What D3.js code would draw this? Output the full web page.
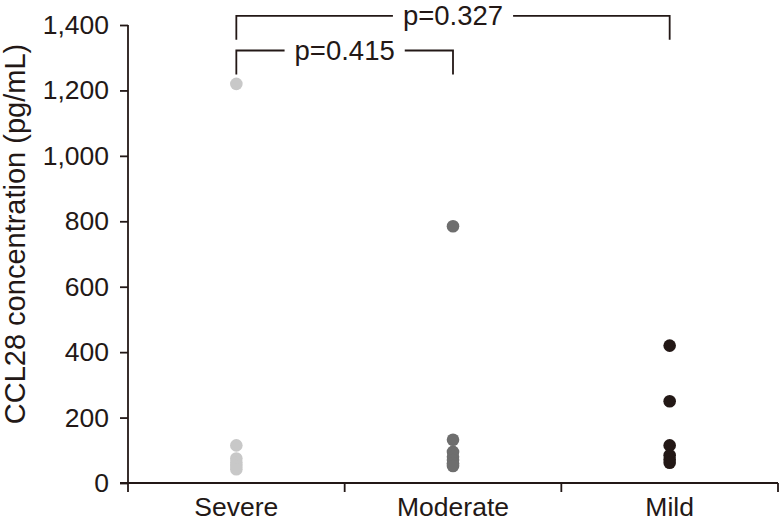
<!DOCTYPE html>
<html><head><meta charset="utf-8">
<script src="https://cdn.jsdelivr.net/npm/d3@7"></script>
<style>
html,body{margin:0;padding:0;background:#fff;}
text{font-family:"Liberation Sans",Arial,Helvetica,sans-serif;fill:#231816;}
</style></head>
<body><svg id="c" width="779" height="523"></svg>
<script>
const categories = ["Severe","Moderate","Mild"];
const colors = ["#c8c8c8","#6e6e6e","#231816"];
const severe = [1220, 115, 75, 63, 52, 42];
const moderate = [785, 132, 95, 80, 70, 60, 52];
const mild = [420, 250, 115, 85, 72, 62];
const yTicks = [0,200,400,600,800,1000,1200,1400];
const comparisons = [
  {a:"Severe", b:"Moderate", label:"p=0.415", level:1322},
  {a:"Severe", b:"Mild", label:"p=0.327", level:1428}
];
const seriesValues = [severe, moderate, mild];

const svg = d3.select("#c");
const ink = "#231816";
const x = d3.scaleBand().domain(categories).range([128, 778]);
const y = d3.scaleLinear().domain([0,1400]).range([483, 25]);

// Y axis
const ya = svg.append("g").attr("transform","translate(128,0)")
  .call(d3.axisLeft(y).tickValues(yTicks).tickSize(8).tickPadding(11).tickSizeOuter(0)
    .tickFormat(d3.format(",")));
ya.select(".domain").remove();
ya.selectAll(".tick line").attr("stroke", ink).attr("stroke-width",1.8);
ya.selectAll(".tick text").attr("font-size","26.5px").attr("font-family","Liberation Sans, Arial, sans-serif").attr("fill",ink);
svg.append("line").attr("x1",128).attr("x2",128).attr("y1",y(1400)).attr("y2",y(0)+9)
  .attr("stroke",ink).attr("stroke-width",1.8);

// X axis
svg.append("line").attr("x1",120).attr("x2",778).attr("y1",y(0)).attr("y2",y(0))
  .attr("stroke",ink).attr("stroke-width",1.8);
const xa = svg.append("g").attr("transform",`translate(0,${y(0)})`)
  .call(d3.axisBottom(x).tickSize(0).tickPadding(0).tickSizeOuter(0));
xa.select(".domain").remove();
xa.selectAll(".tick text").attr("font-size","26.5px").attr("font-family","Liberation Sans, Arial, sans-serif")
  .attr("fill",ink).attr("y",33).attr("dy",0);
categories.forEach(c=>{
  const xe = x(c)+x.bandwidth();
  svg.append("line").attr("x1",xe).attr("x2",xe).attr("y1",y(0)).attr("y2",y(0)+9)
    .attr("stroke",ink).attr("stroke-width",1.8);
});

// Points
categories.forEach((c,i)=>{
  svg.append("g").selectAll("circle").data(seriesValues[i]).join("circle")
    .attr("cx", x(c)+x.bandwidth()/2)
    .attr("cy", d=>y(d))
    .attr("r", 6.3)
    .attr("fill", colors[i]);
});

// Brackets
comparisons.forEach(cmp=>{
  const x1 = x(cmp.a)+x.bandwidth()/2, x2 = x(cmp.b)+x.bandwidth()/2;
  const yl = y(cmp.level), yb = yl+24;
  const g = svg.append("g");
  const t = g.append("text").attr("x",(x1+x2)/2).attr("y",yl+9)
    .attr("text-anchor","middle").attr("font-size","27.5px").text(cmp.label);
  const w = t.node().getComputedTextLength();
  const gap = w/2 + 10;
  const mid = (x1+x2)/2;
  g.append("path").attr("d",`M${x1},${yb}V${yl}H${mid-gap}M${mid+gap},${yl}H${x2}V${yb}`)
    .attr("fill","none").attr("stroke",ink).attr("stroke-width",1.8);
});

// Y title
svg.append("text").attr("transform",`translate(25,${234}) rotate(-90)`)
  .attr("text-anchor","middle").attr("font-size","29px").text("CCL28 concentration (pg/mL)");
</script></body></html>
